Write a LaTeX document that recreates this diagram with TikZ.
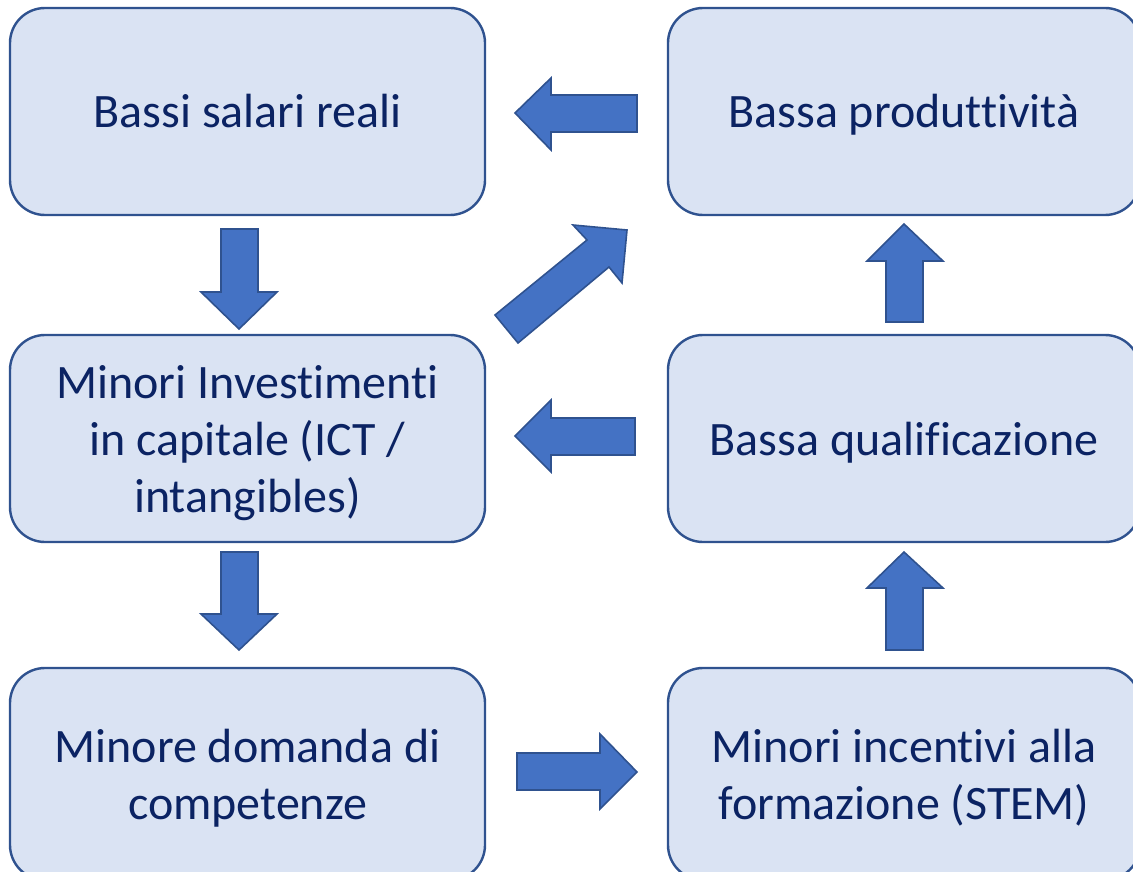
\documentclass[tikz,border=0pt]{standalone}
\usepackage{fontspec}
\setmainfont{Carlito}[Ligatures={NoCommon}]
\definecolor{boxfill}{HTML}{DAE3F3}
\definecolor{boxline}{HTML}{2F528F}
\definecolor{arrfill}{HTML}{4472C4}
\definecolor{arrline}{HTML}{2F528F}
\definecolor{txt}{HTML}{0B2363}
\newcommand\lstrut{\rule[-12pt]{0pt}{57pt}}
\tikzset{
  box/.style={draw=boxline, line width=2.4pt, fill=boxfill, rounded corners=35pt,
    align=center, text=txt, font=\fontsize{48}{57}\selectfont, inner sep=0pt},
  blockarrow/.style={draw=arrline, fill=arrfill, line width=1.6pt, line join=miter}
}
\begin{document}
\begin{tikzpicture}[x=1pt,y=-1pt]
\useasboundingbox (0,0) rectangle (1133,872);
\clip (0,0) rectangle (1133,872);
% boxes
\node[box, minimum width=475pt, minimum height=207pt] (A) at (247.5,111.5) {\lstrut Bassi salari reali};
\node[box, minimum width=472pt, minimum height=207pt] (B) at (904,111.5) {\lstrut Bassa produttività};
\node[box, minimum width=475pt, minimum height=207pt] (C) at (247.5,438.5) {\lstrut Minori Investimenti\\\lstrut in capitale (ICT /\\\lstrut intangibles)};
\node[box, minimum width=472pt, minimum height=207pt] (D) at (904,438.5) {\lstrut Bassa qualificazione};
\node[box, minimum width=475pt, minimum height=212pt] (E) at (247.5,774) {\lstrut Minore domanda di\\\lstrut competenze};
\node[box, minimum width=472pt, minimum height=212pt] (F) at (904,774) {\lstrut Minori incentivi alla\\\lstrut formazione (STEM)};
% block arrows
% B -> A (left)
\draw[blockarrow] (515,113) -- (551,78) -- (551,95) -- (637,95) -- (637,132) -- (551,132) -- (551,150) -- cycle;
% D -> C (left)
\draw[blockarrow] (515,436) -- (551,400) -- (551,418) -- (635,418) -- (635,455) -- (551,455) -- (551,472) -- cycle;
% A -> C (down)
\draw[blockarrow] (239,329) -- (201,292) -- (221,292) -- (221,229) -- (258,229) -- (258,292) -- (277,292) -- cycle;
% C -> E (down)
\draw[blockarrow] (239,650) -- (201,614) -- (221,614) -- (221,552) -- (258,552) -- (258,614) -- (277,614) -- cycle;
% E -> F (right)
\draw[blockarrow] (637,772) -- (600,734) -- (600,753) -- (517,753) -- (517,790) -- (600,790) -- (600,809) -- cycle;
% F -> D (up)
\draw[blockarrow] (904,552) -- (867,588) -- (886,588) -- (886,650) -- (923,650) -- (923,588) -- (943,588) -- cycle;
% D -> B (up)
\draw[blockarrow] (904,224) -- (867,261) -- (886,261) -- (886,322) -- (923,322) -- (923,261) -- (943,261) -- cycle;
% C -> B (diagonal)
\draw[blockarrow] (495,315) -- (587,240) -- (573,225) -- (627,230) -- (622,283) -- (609,267) -- (518,343) -- cycle;
\end{tikzpicture}
\end{document}
